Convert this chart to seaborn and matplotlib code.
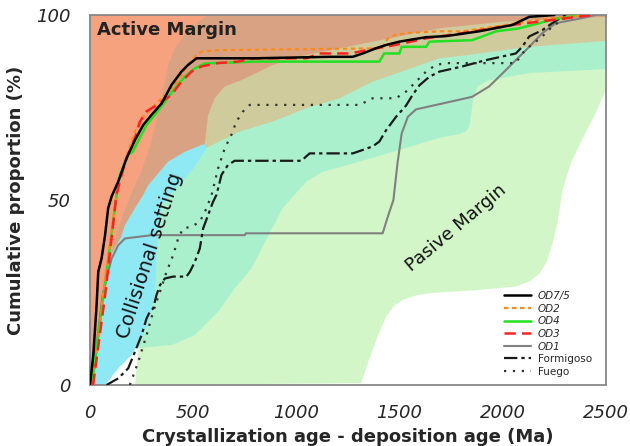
import numpy as np
import pandas as pd
import matplotlib
matplotlib.use("Agg")
import matplotlib.pyplot as plt
import seaborn as sns
from matplotlib.lines import Line2D

# ---------------- data ----------------
series_names = ["OD7/5", "OD2", "OD4", "OD3", "OD1", "Formigoso", "Fuego"]

od75_x = [0, 16, 32, 40, 56, 73, 88, 105, 137, 177, 218, 258, 298, 347, 395, 443, 475, 516, 800,
          1161, 1273, 1321, 1390, 1435, 1499, 1562, 1628, 1725, 1886, 2046, 2128, 2250]
od75_y = [0, 8.1, 21.6, 30.6, 34.2, 40.5, 47.8, 51, 55, 61.3, 66.2, 70.3, 73, 76.1, 81.1, 84.7, 86.5, 88.3, 88.3,
          88.7, 88.7, 89.6, 91.1, 91.9, 92.8, 93.4, 94.0, 94.3, 95.6, 97.3, 99.5, 100]

od2_x = [15, 48, 73, 111, 129, 137, 169, 218, 250, 298, 363, 411, 459, 492, 523, 540, 619, 1418, 1440,
         1467, 1531, 1693, 1804, 1968, 2210, 2418]
od2_y = [0, 15.4, 29, 44, 51.4, 54, 60.4, 68.5, 72, 74.8, 78.4, 81, 85.1, 87.8, 89.6, 90.1, 90.5, 91, 93.5,
         94.4, 95.1, 95.6, 95.6, 96.9, 99, 100]

od4_x = [8, 129, 145, 185, 208, 232, 274, 314, 363, 411, 459, 508, 556, 798, 1402, 1425, 1499, 1510,
         1628, 1645, 1852, 1968, 2079, 2176, 2258, 2384]
od4_y = [0, 51.4, 56.8, 62.2, 63.1, 65.8, 70.3, 73, 76.6, 80.2, 83.3, 85.6, 86.9, 87.4, 87.4, 89.6, 89.6, 91.4,
         91.4, 92.8, 93.2, 95.6, 96.4, 97.8, 99, 100]

od3_x = [15, 75, 128, 153, 177, 218, 242, 275, 320, 347, 395, 443, 492, 540, 619, 716, 798, 1048, 1112,
         1257, 1306, 1386, 1451, 1531, 1628, 1804, 2046, 2288, 2433]
od3_y = [0, 25, 51.4, 56.8, 61.3, 66.7, 71.2, 74, 75.5, 76.6, 78.4, 82, 84.7, 86.1, 87, 87.4, 88.3, 88.3, 89.6,
         89.6, 90.1, 91, 91.6, 92.5, 93.7, 95.1, 97.3, 99, 100]

od1_x = [0, 30, 60, 90, 105, 137, 169, 298, 750, 755, 1418, 1440, 1470, 1490, 1510, 1540, 1580, 1693,
         1852, 1934, 2000, 2063, 2128, 2191, 2257, 2370, 2450]
od1_y = [0, 10, 24, 31, 34.2, 37.8, 39.6, 40.5, 40.5, 41, 41, 45, 50, 60, 68, 72.5, 74.5, 75.9,
         77.9, 80.7, 84.3, 87.8, 91.4, 95.1, 97.8, 99, 100]

form_x = [80, 137, 185, 218, 250, 274, 290, 306, 322, 339, 363, 403, 467, 484, 508, 532, 548, 572, 596,
          613, 637, 669, 701, 1024, 1064, 1273, 1320, 1370, 1402, 1435, 1483, 1531, 1563, 1596, 1644,
          1693, 1804, 1918, 2063, 2094, 2128, 2191, 2240, 2288, 2310]
form_y = [0, 1.8, 4.5, 9, 13.5, 18, 19.8, 20.7, 24.3, 27, 28.8, 29.3, 29.3, 30.6, 33.3, 36.9, 42.3, 45.9, 49.5,
          51.4, 56.8, 59.5, 60.6, 60.6, 62.6, 62.6, 63.5, 64.5, 65.8, 68.9, 72.5, 75.5, 78.4, 81, 83.3,
          84.7, 86.1, 87.8, 89.6, 91.4, 94.2, 95.9, 97.8, 99.5, 100]

fuego_x = [193, 234, 274, 306, 339, 371, 403, 427, 451, 492, 532, 564, 589, 621, 653, 685, 709, 741, 774,
           1306, 1338, 1370, 1483, 1531, 1580, 1628, 1676, 1725, 2063, 2094, 2128, 2191, 2240, 2288, 2320]
fuego_y = [0, 6.3, 13.5, 19.8, 25.2, 30.6, 35.1, 39.6, 42.3, 42.8, 44.1, 47.7, 51.4, 58.6, 64, 67.6, 71.2,
           73.9, 75.7, 75.7, 76.6, 77.5, 77.5, 79.3, 82, 84.7, 86.5, 87, 87, 89.6, 91.4, 94.2, 96.9, 98.6, 100]

# background tectonic-setting fields (outlines in Ma / %)
passive_x = [218, 1314, 1340, 1370, 1400, 1435, 1475, 1515, 1580, 1644, 1886, 2063, 2130, 2175, 2210,
             2240, 2265, 2289, 2330, 2390, 2450, 2500, 2500, 234, 234]
passive_y = [0, 0.5, 5, 9.5, 14, 18.5, 21.5, 23, 24.2, 24.8, 25.7, 26.6, 28, 30, 33,
             38, 43.7, 52.7, 60, 67, 73.5, 80, 100, 100, 10]
mint_x = [234, 395, 508, 620, 701, 782, 860, 934, 1048, 1127, 1370, 1693, 1790, 1822, 1838, 1846, 1858,
          1880, 1930, 2128, 2500, 2500, 234]
mint_y = [10, 10.8, 13.5, 19.8, 26.1, 31.5, 40, 47.8, 55, 57.6, 61.4, 66.8, 67.8, 68.6, 70, 73, 78,
          80.8, 82.3, 84.3, 85.4, 100, 100]
olive_x = [542, 725, 886, 1048, 1209, 1370, 1531, 1693, 1804, 2128, 2500, 2500, 542]
olive_y = [63.5, 68.5, 71.2, 74.8, 77.5, 82, 85.1, 88.3, 89, 91.4, 93, 100, 100]
coll_x = [10, 73, 137, 201, 242, 282, 314, 322, 330, 347, 420, 500, 560, 560, 0, 0]
coll_y = [0, 0, 4.5, 8.1, 11.7, 17.1, 24.3, 33.3, 42.3, 48.6, 53.5, 58.5, 63.5, 80, 80, 0]
brown_x = [100, 150, 169, 218, 258, 282, 379, 459, 540, 556, 572, 604, 653, 734, 886, 1048, 1209, 1370,
           1531, 1693, 2000, 2500, 2500, 0, 0]
brown_y = [35, 40, 43.2, 47.8, 51.4, 54, 60.4, 63, 64.9, 65, 73, 77.5, 80.7, 82.4, 86.5, 89.2, 91, 92.8,
           94.6, 96.4, 98.2, 99.5, 100, 100, 35]
active_x = [0, 10, 40, 73, 105, 140, 195, 250, 298, 347, 379, 411, 459, 508, 570, 0]
active_y = [0, 0, 13.5, 24.3, 36, 43, 51, 58, 65.8, 77.5, 86.5, 91, 94.6, 97.3, 100, 100]

x_ticks = [0, 500, 1000, 1500, 2000, 2500]
y_ticks = [0, 50, 100]

# ---------------- figure ----------------
sns.set_style("white")
plt.rcParams["font.family"] = ["DejaVu Sans"]

fig = plt.figure(figsize=(6.3, 4.46), dpi=100)
ax = fig.add_axes([90 / 630, 1 - 385 / 446, 516 / 630, 370 / 446])

fields = [
    (passive_x, passive_y, "#D2F6C8"),
    (mint_x, mint_y, "#AAF0CC"),
    (olive_x, olive_y, "#CFCB9C"),
    (coll_x, coll_y, "#8FE9F4"),
    (brown_x, brown_y, "#D9A283"),
    (active_x, active_y, "#F6A27E"),
]
for fx, fy, col in fields:
    ax.fill(fx, fy, color=col, lw=0, zorder=0)

styles = {
    "OD7/5": dict(color="black", lw=1.8, ls="-"),
    "OD2": dict(color="#FF8A1C", lw=1.6, ls=(0, (2, 1.6))),
    "OD4": dict(color="#22E022", lw=1.8, ls="-"),
    "OD3": dict(color="#FF2222", lw=1.8, ls=(0, (4.5, 2.5))),
    "OD1": dict(color="#808080", lw=1.5, ls="-"),
    "Formigoso": dict(color="#1a1a1a", lw=1.6, ls=(0, (6, 1.8, 1.5, 1.8))),
    "Fuego": dict(color="#333333", lw=1.6, ls=(0, (1, 3))),
}
data = {
    "OD7/5": (od75_x, od75_y),
    "OD2": (od2_x, od2_y),
    "OD4": (od4_x, od4_y),
    "OD3": (od3_x, od3_y),
    "OD1": (od1_x, od1_y),
    "Formigoso": (form_x, form_y),
    "Fuego": (fuego_x, fuego_y),
}
draw_order = ["OD1", "Fuego", "Formigoso", "OD4", "OD2", "OD3", "OD7/5"]
for name in draw_order:
    xs, ys = data[name]
    st = styles[name]
    sns.lineplot(x=xs, y=ys, ax=ax, sort=False, estimator=None, color=st["color"],
                 linewidth=st["lw"], linestyle=st["ls"], zorder=3)

ax.set_xlim(0, 2500)
ax.set_ylim(0, 100)
ax.set_xticks(x_ticks)
ax.set_xticklabels([str(t) for t in x_ticks])
ax.set_yticks(np.arange(0, 101, 10))
ax.set_yticklabels([str(t) if t in y_ticks else "" for t in np.arange(0, 101, 10)])
ax.tick_params(axis="both", direction="out", length=10, width=1.3, color="#777777",
               labelsize=13, pad=4)
for lab in ax.get_xticklabels() + ax.get_yticklabels():
    lab.set_fontstyle("italic")
for sp in ax.spines.values():
    sp.set_color("#888888")
    sp.set_linewidth(1.3)

ax.set_xlabel("Crystallization age - deposition age (Ma)", fontsize=13, fontweight="bold", labelpad=4)
ax.set_ylabel("Cumulative proportion (%)", fontsize=13, fontweight="bold", labelpad=8)

ax.text(35, 96, "Active Margin", fontsize=13, fontweight="bold", ha="left", va="center", zorder=4,
        color="#222222")
ax.text(290, 35, "Collisional setting", fontsize=14, rotation=72, ha="center", va="center", zorder=4,
        color="#111111")
ax.text(1775, 42.4, "Pasive Margin", fontsize=13, rotation=40, ha="center", va="center", zorder=4,
        color="#111111")

handles = [Line2D([], [], color=styles[n]["color"], lw=styles[n]["lw"], ls=styles[n]["ls"])
           for n in series_names]
leg = ax.legend(handles, series_names, loc="upper left", bbox_to_anchor=(0.795, 0.265), frameon=False,
                fontsize=7.5, handlelength=2.6, labelspacing=0.25, handletextpad=0.6, borderaxespad=0)
for t in leg.get_texts():
    if t.get_text().startswith("OD"):
        t.set_fontstyle("italic")

fig.savefig("out.png", dpi=100)
